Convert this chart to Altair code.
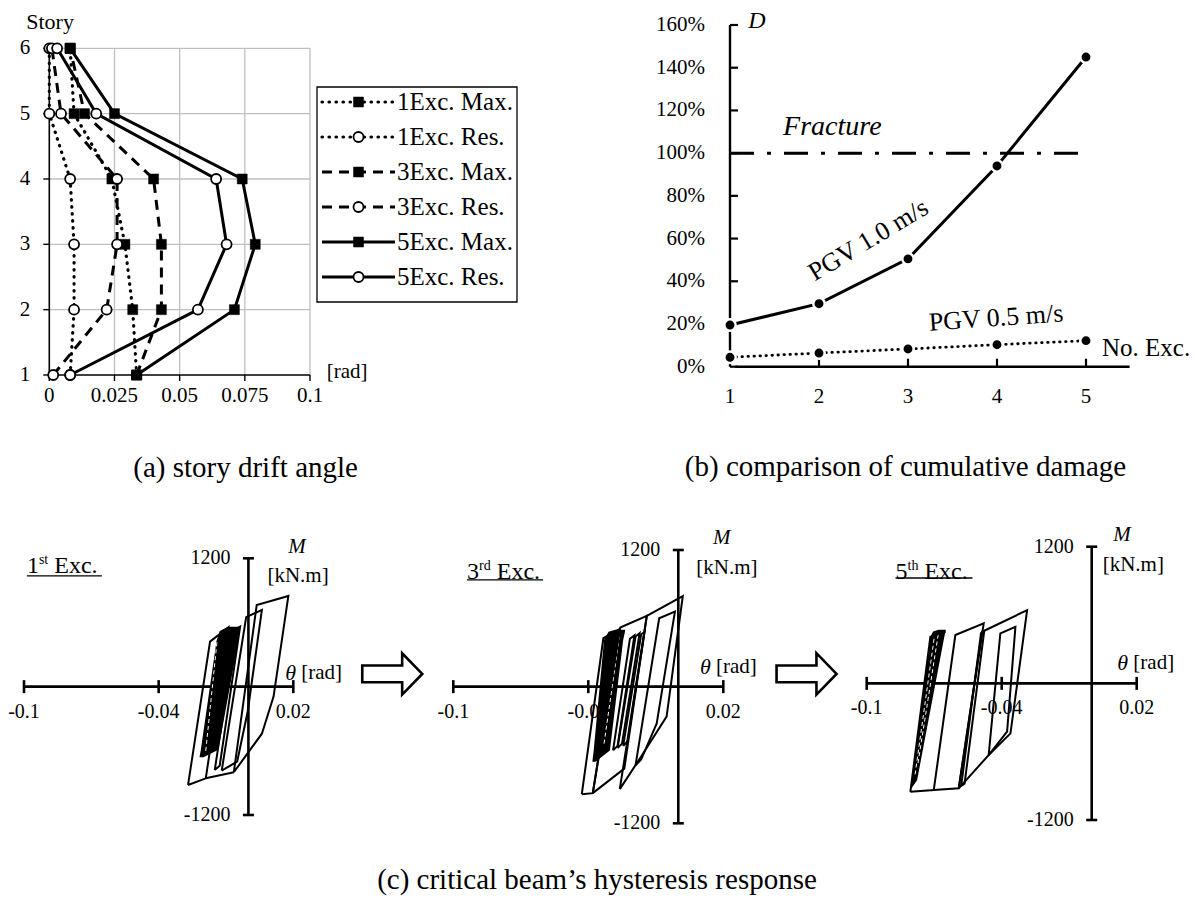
import altair as alt
import pandas as pd

FONT = "Liberation Serif"
INK = "black"
GRID = "#bfbfbf"

# ---------------- (a) story drift angle ----------------
stories = [1, 2, 3, 4, 5, 6]
exc1_max = [0.0335, 0.0320, 0.0290, 0.0240, 0.0095, 0.0080]
exc1_res = [0.0080, 0.0095, 0.0095, 0.0080, 0.0000, 0.0000]
exc3_max = [0.0335, 0.0430, 0.0430, 0.0400, 0.0135, 0.0080]
exc3_res = [0.0015, 0.0220, 0.0260, 0.0260, 0.0045, 0.0010]
exc5_max = [0.0335, 0.0710, 0.0790, 0.0740, 0.0250, 0.0080]
exc5_res = [0.0080, 0.0570, 0.0680, 0.0640, 0.0180, 0.0030]
drift_ticks = [0, 0.025, 0.05, 0.075, 0.1]
drift_tick_text = ["0", "0.025", "0.05", "0.075", "0.1"]

drift_series = [
    ("1Exc. Max.", exc1_max, "dot", "square"),
    ("1Exc. Res.", exc1_res, "dot", "circle"),
    ("3Exc. Max.", exc3_max, "dash", "square"),
    ("3Exc. Res.", exc3_res, "dash", "circle"),
    ("5Exc. Max.", exc5_max, "solid", "square"),
    ("5Exc. Res.", exc5_res, "solid", "circle"),
]

# ---------------- (b) cumulative damage ----------------
exc_count = [1, 2, 3, 4, 5]
damage_pgv10 = [0.195, 0.295, 0.505, 0.940, 1.450]
damage_pgv05 = [0.044, 0.064, 0.083, 0.103, 0.122]
damage_ticks = [0, 0.2, 0.4, 0.6, 0.8, 1.0, 1.2, 1.4, 1.6]
damage_tick_text = ["0%", "20%", "40%", "60%", "80%", "100%", "120%", "140%", "160%"]
fracture_level = 1.0

# ---------------- (c) hysteresis of the critical beam ----------------
theta_ticks = [-0.1, -0.04, 0.02]
theta_tick_text = ["-0.1", "-0.04", "0.02"]
moment_ticks = [-1200, 1200]
moment_tick_text = ["-1200", "1200"]

# closed loops, (theta [rad], M [kN.m])
hyst1_loops = [
    [(-0.0269, -919), (-0.0171, 421), (-0.0089, 555), (-0.0190, -857), (-0.0269, -919)],
    [(-0.0190, -857), (-0.0065, -800)],
    [(-0.0065, -800), (0.0037, 764), (0.0178, 848), (0.0112, -93), (0.0060, -440), (-0.0065, -800)],
    [(-0.0119, -785), (-0.0010, 650), (0.0060, 717), (-0.0003, -230), (-0.0050, -700), (-0.0119, -785)],
    [(-0.0150, -780), (-0.0055, 540), (-0.0037, 561), (-0.0128, -740), (-0.0150, -780)],
]
hyst1_band = [(-660, -0.0218, -0.0200), (-590, -0.0212, -0.0134), (430, -0.0142, -0.0045),
              (520, -0.0128, -0.0038), (560, -0.0090, -0.0037)]
hyst1_streaks = [[(-0.0190, -600), (-0.0140, 420)]]

hyst2_loops = [
    [(-0.0429, -945), (-0.0333, 425), (-0.0267, 498), (-0.0380, -935), (-0.0429, -945)],
    [(-0.0380, -935), (-0.0258, 519), (-0.0140, 621), (-0.0240, -720), (-0.0380, -935)],
    [(-0.0260, -900), (-0.0140, 621), (0.0020, 796), (-0.0052, -263), (-0.0170, -629), (-0.0260, -900)],
    [(-0.0190, -690), (-0.0085, 600), (-0.0015, 659), (-0.0096, -323), (-0.0165, -640), (-0.0190, -690)],
    [(-0.0290, -560), (-0.0215, 420), (-0.0195, 450), (-0.0270, -520), (-0.0290, -560)],
    [(-0.0270, -540), (-0.0190, 440), (-0.0172, 470), (-0.0250, -500), (-0.0270, -540)],
    [(-0.0245, -520), (-0.0165, 460), (-0.0150, 480), (-0.0225, -480), (-0.0245, -520)],
]
hyst2_band = [(-660, -0.0382, -0.0368), (-560, -0.0376, -0.0304), (410, -0.0330, -0.0245),
              (483, -0.0310, -0.0237), (500, -0.0280, -0.0236)]
hyst2_streaks = [[(-0.0330, -500), (-0.0262, 440)]]

hyst3_loops = [
    [(-0.0806, -952), (-0.0717, 409), (-0.0650, 453)],
    [(-0.0806, -952), (-0.0702, -937), (-0.0606, 424), (-0.0480, 527), (-0.0591, -922), (-0.0702, -937)],
    [(-0.0591, -922), (-0.0487, 453), (-0.0287, 643), (-0.0361, -439), (-0.0458, -630), (-0.0591, -922)],
    [(-0.0580, -900), (-0.0492, 440), (-0.0478, 455), (-0.0565, -880), (-0.0580, -900)],
    [(-0.0458, -630), (-0.0406, 439), (-0.0339, 497), (-0.0376, -424), (-0.0458, -630)],
]
hyst3_band = [(-920, -0.0805, -0.0800), (-850, -0.0800, -0.0776), (409, -0.0717, -0.0655),
              (455, -0.0705, -0.0650), (470, -0.0680, -0.0648)]
hyst3_streaks = [[(-0.0785, -800), (-0.0700, 400)], [(-0.0772, -700), (-0.0682, 430)]]

LINE_STYLES = {
    "dot": {"strokeDash": [0.5, 6.5], "strokeCap": "round", "strokeWidth": 3.2},
    "dash": {"strokeDash": [10, 7], "strokeWidth": 3.0},
    "solid": {"strokeWidth": 3.0},
}
MARKERS = {
    "square": {"shape": "square", "filled": True, "fill": INK, "stroke": INK,
               "strokeWidth": 0.5, "size": 100, "opacity": 1},
    "circle": {"shape": "circle", "filled": True, "fill": "white", "stroke": INK,
               "strokeWidth": 1.8, "size": 100, "opacity": 1},
}
ARROW = "M -1 -0.28 L 0.33 -0.28 L 0.33 -0.69 L 1 0 L 0.33 0.69 L 0.33 0.28 L -1 0.28 Z"


def q(channel, field, scale):
    return channel(field, type="quantitative", scale=scale, axis=None)


# ======================= panel (a) =======================
xa = alt.Scale(domain=[0, 0.1], range=[49.3, 310])
ya = alt.Scale(domain=[1, 6], range=[375, 48.3])


def XA(f):
    return q(alt.X, f, xa)


def YA(f):
    return q(alt.Y, f, ya)


a_layers = [
    alt.Chart(pd.DataFrame({"x": drift_ticks[1:], "lo": stories[0], "hi": stories[-1]}))
    .mark_rule(color=GRID, strokeWidth=1.3).encode(x=XA("x"), y=YA("lo"), y2=alt.Y2("hi")),
    alt.Chart(pd.DataFrame({"y": stories[1:], "lo": drift_ticks[0], "hi": drift_ticks[-1]}))
    .mark_rule(color=GRID, strokeWidth=1.3).encode(y=YA("y"), x=XA("lo"), x2=alt.X2("hi")),
    alt.Chart(pd.DataFrame({"x": [0], "lo": [stories[0]], "hi": [stories[-1]]}))
    .mark_rule(color=INK, strokeWidth=1.6).encode(x=XA("x"), y=YA("lo"), y2=alt.Y2("hi")),
    alt.Chart(pd.DataFrame({"y": [stories[0]], "lo": [drift_ticks[0]], "hi": [drift_ticks[-1]]}))
    .mark_rule(color=INK, strokeWidth=1.6).encode(y=YA("y"), x=XA("lo"), x2=alt.X2("hi")),
    alt.Chart(pd.DataFrame({"x": drift_ticks, "y": stories[0]}))
    .mark_tick(orient="vertical", size=6, thickness=1.4, yOffset=3, color=INK, opacity=1)
    .encode(x=XA("x"), y=YA("y")),
    alt.Chart(pd.DataFrame({"x": 0, "y": stories}))
    .mark_tick(orient="horizontal", size=6, thickness=1.4, xOffset=-3, color=INK, opacity=1)
    .encode(x=XA("x"), y=YA("y")),
    alt.Chart(pd.DataFrame({"x": drift_ticks, "y": stories[0], "s": drift_tick_text}))
    .mark_text(font=FONT, fontSize=21, dy=21, color=INK)
    .encode(x=XA("x"), y=YA("y"), text="s:N"),
    alt.Chart(pd.DataFrame({"x": 0, "y": stories, "s": [str(s) for s in stories]}))
    .mark_text(font=FONT, fontSize=21, align="right", dx=-19, color=INK)
    .encode(x=XA("x"), y=YA("y"), text="s:N"),
    alt.Chart(pd.DataFrame({"x": [0.0003], "y": [6.40], "s": ["Story"]}))
    .mark_text(font=FONT, fontSize=22, color=INK).encode(x=XA("x"), y=YA("y"), text="s:N"),
    alt.Chart(pd.DataFrame({"x": [0.1064], "y": [1.046], "s": ["[rad]"]}))
    .mark_text(font=FONT, fontSize=21, align="left", color=INK).encode(x=XA("x"), y=YA("y"), text="s:N"),
]
for name, vals, style, marker in drift_series:
    d = pd.DataFrame({"story": stories, "drift": vals})
    a_layers.append(alt.Chart(d).mark_line(color=INK, **LINE_STYLES[style])
                    .encode(x=XA("drift"), y=YA("story"), order="story:Q"))
for name, vals, style, marker in drift_series:
    d = pd.DataFrame({"story": stories, "drift": vals})
    a_layers.append(alt.Chart(d).mark_point(**MARKERS[marker]).encode(x=XA("drift"), y=YA("story")))
panel_a = alt.layer(*a_layers)

# legend of panel (a)
lx = alt.Scale(domain=[0, 1], range=[322, 395])
ly = alt.Scale(domain=[0, 5], range=[102, 277])
leg_layers = [
    alt.Chart(pd.DataFrame({"k": [0]})).mark_rect(fillOpacity=0, stroke=INK, strokeWidth=1.3)
    .encode(x=alt.value(317), x2=alt.value(517), y=alt.value(87), y2=alt.value(302)),
]
for k, (name, vals, style, marker) in enumerate(drift_series):
    leg_layers.append(alt.Chart(pd.DataFrame({"row": [k, k], "s": [0, 1]}))
                      .mark_line(color=INK, **LINE_STYLES[style])
                      .encode(x=q(alt.X, "s", lx), y=q(alt.Y, "row", ly)))
for k, (name, vals, style, marker) in enumerate(drift_series):
    leg_layers.append(alt.Chart(pd.DataFrame({"row": [k], "s": [0.5]}))
                      .mark_point(**MARKERS[marker])
                      .encode(x=q(alt.X, "s", lx), y=q(alt.Y, "row", ly)))
    leg_layers.append(alt.Chart(pd.DataFrame({"row": [k], "s": [1], "t": [name]}))
                      .mark_text(font=FONT, fontSize=25, align="left", dx=2, color=INK)
                      .encode(x=q(alt.X, "s", lx), y=q(alt.Y, "row", ly), text="t:N"))
legend_a = alt.layer(*leg_layers)

# ======================= panel (b) =======================
xb = alt.Scale(domain=[1, 5], range=[730, 1086])
yb = alt.Scale(domain=[0, 1.6], range=[366.7, 25])


def XB(f):
    return q(alt.X, f, xb)


def YB(f):
    return q(alt.Y, f, yb)


b_layers = [
    alt.Chart(pd.DataFrame({"x": [1], "lo": [damage_ticks[0]], "hi": [damage_ticks[-1]]}))
    .mark_rule(color=INK, strokeWidth=2.4).encode(x=XB("x"), y=YB("lo"), y2=alt.Y2("hi")),
    alt.Chart(pd.DataFrame({"y": [0], "lo": [1.06], "hi": [5.49]}))
    .mark_rule(color=INK, strokeWidth=2.4).encode(y=YB("y"), x=XB("lo"), x2=alt.X2("hi")),
    alt.Chart(pd.DataFrame({"x": 1, "y": damage_ticks}))
    .mark_tick(orient="horizontal", size=8, thickness=2.2, xOffset=4, color=INK, opacity=1)
    .encode(x=XB("x"), y=YB("y")),
    alt.Chart(pd.DataFrame({"x": exc_count[1:], "y": 0}))
    .mark_tick(orient="vertical", size=8, thickness=2.2, yOffset=-4, color=INK, opacity=1)
    .encode(x=XB("x"), y=YB("y")),
    alt.Chart(pd.DataFrame({"x": 1, "y": damage_ticks, "s": damage_tick_text}))
    .mark_text(font=FONT, fontSize=21, align="right", dx=-25, color=INK)
    .encode(x=XB("x"), y=YB("y"), text="s:N"),
    alt.Chart(pd.DataFrame({"x": exc_count, "y": 0, "s": [str(v) for v in exc_count]}))
    .mark_text(font=FONT, fontSize=21, dy=30, color=INK)
    .encode(x=XB("x"), y=YB("y"), text="s:N"),
    alt.Chart(pd.DataFrame({"y": [fracture_level], "lo": [exc_count[0]], "hi": [exc_count[-1]]}))
    .mark_rule(color=INK, strokeWidth=3, strokeDash=[24, 13, 4, 13])
    .encode(y=YB("y"), x=XB("lo"), x2=alt.X2("hi")),
    alt.Chart(pd.DataFrame({"x": exc_count, "d": damage_pgv10}))
    .mark_line(color=INK, strokeWidth=3).encode(x=XB("x"), y=YB("d")),
    alt.Chart(pd.DataFrame({"x": exc_count, "d": damage_pgv05}))
    .mark_line(color=INK, strokeWidth=2.8, strokeDash=[0.5, 5.5], strokeCap="round")
    .encode(x=XB("x"), y=YB("d")),
]
for series in (damage_pgv10, damage_pgv05):
    b_layers.append(alt.Chart(pd.DataFrame({"x": exc_count, "d": series}))
                    .mark_point(shape="circle", filled=True, fill=INK, stroke="white",
                                strokeWidth=2.5, size=130, opacity=1)
                    .encode(x=XB("x"), y=YB("d")))
b_notes = [
    ("D", 1.303, 1.618, 24, "italic", "center", 0),
    ("Fracture", 2.15, 1.122, 28, "italic", "center", 0),
    ("PGV 1.0 m/s", 2.554, 0.593, 26, "normal", "center", 329),
    ("PGV 0.5 m/s", 3.989, 0.228, 26, "normal", "center", 356),
    ("No. Exc.", 5.18, 0.0875, 25, "normal", "left", 0),
]
for text, xv, yv, size, style, align, angle in b_notes:
    b_layers.append(alt.Chart(pd.DataFrame({"x": [xv], "y": [yv], "s": [text]}))
                    .mark_text(font=FONT, fontSize=size, fontStyle=style, align=align,
                               angle=angle, color=INK)
                    .encode(x=XB("x"), y=YB("y"), text="s:N"))
panel_b = alt.layer(*b_layers)


# ======================= panel (c) =======================
def loops_frame(loops):
    rows = []
    for k, loop in enumerate(loops):
        for i, (t, m) in enumerate(loop):
            rows.append({"loop": k, "i": i, "theta": t, "M": m})
    return pd.DataFrame(rows)


SUP_WIDTH = {"st": 9.3, "rd": 11.7, "th": 10.9}


def hysteresis_panel(cfg):
    xs = alt.Scale(domain=[-0.1, 0.02], range=cfg["x_range"])
    ys = alt.Scale(domain=[-1200, 1200], range=cfg["y_range"])

    def X(f):
        return q(alt.X, f, xs)

    def Y(f):
        return q(alt.Y, f, ys)

    layers = [
        alt.Chart(pd.DataFrame({"t": theta_ticks, "m": 0, "s": theta_tick_text}))
        .mark_text(font=FONT, fontSize=20, dy=25, color=INK).encode(x=X("t"), y=Y("m"), text="s:N"),
        alt.Chart(pd.DataFrame({"t": 0, "m": moment_ticks, "s": moment_tick_text}))
        .mark_text(font=FONT, fontSize=20, align="right", dx=-18, color=INK)
        .encode(x=X("t"), y=Y("m"), text="s:N"),
        alt.Chart(pd.DataFrame({"m": [0], "lo": [theta_ticks[0]], "hi": [theta_ticks[-1]]}))
        .mark_rule(color=INK, strokeWidth=2.6).encode(y=Y("m"), x=X("lo"), x2=alt.X2("hi")),
        alt.Chart(pd.DataFrame({"t": [0], "lo": [moment_ticks[0]], "hi": [moment_ticks[-1]]}))
        .mark_rule(color=INK, strokeWidth=2.6).encode(x=X("t"), y=Y("lo"), y2=alt.Y2("hi")),
        alt.Chart(pd.DataFrame({"t": theta_ticks, "m": 0}))
        .mark_tick(orient="vertical", size=13, thickness=2.6, color=INK, opacity=1)
        .encode(x=X("t"), y=Y("m")),
        alt.Chart(pd.DataFrame({"t": 0, "m": moment_ticks}))
        .mark_tick(orient="horizontal", size=11, thickness=2.6, color=INK, opacity=1)
        .encode(x=X("t"), y=Y("m")),
        alt.Chart(pd.DataFrame(cfg["band"], columns=["m", "lo", "hi"]))
        .mark_area(orient="horizontal", color=INK, opacity=1)
        .encode(y=Y("m"), x=X("lo"), x2=alt.X2("hi")),
        alt.Chart(loops_frame(cfg["streaks"]))
        .mark_line(color="white", strokeWidth=1, strokeDash=[4, 3])
        .encode(x=X("theta"), y=Y("M"), detail="loop:N", order="i:Q"),
        alt.Chart(loops_frame(cfg["loops"]))
        .mark_line(color=INK, strokeWidth=2.0, strokeJoin="miter")
        .encode(x=X("theta"), y=Y("M"), detail="loop:N", order="i:Q"),
    ]
    tl, tm = cfg["title"]
    title_df = pd.DataFrame({"t": [tl], "m": [tm]})
    num_w = 12
    sup_w = SUP_WIDTH[cfg["sup"]]
    layers += [
        alt.Chart(title_df).mark_text(text=cfg["num"], font=FONT, fontSize=24, align="left", color=INK)
        .encode(x=X("t"), y=Y("m")),
        alt.Chart(title_df).mark_text(text=cfg["sup"], font=FONT, fontSize=14, align="left",
                                      dx=num_w, dy=-6, color=INK)
        .encode(x=X("t"), y=Y("m")),
        alt.Chart(title_df).mark_text(text="Exc.", font=FONT, fontSize=24, align="left",
                                      dx=num_w + sup_w + 6, color=INK)
        .encode(x=X("t"), y=Y("m")),
        alt.Chart(pd.DataFrame({"a": [tl], "b": [cfg["underline"][0]], "m": [cfg["underline"][1]]}))
        .mark_rule(color=INK, strokeWidth=1.3).encode(x=X("a"), x2=alt.X2("b"), y=Y("m")),
    ]
    th, thm = cfg["theta_lab"]
    layers += [
        alt.Chart(pd.DataFrame({"t": [th], "m": [thm]}))
        .mark_text(text="θ", font=FONT, fontSize=22, fontStyle="italic", align="left", color=INK)
        .encode(x=X("t"), y=Y("m")),
        alt.Chart(pd.DataFrame({"t": [th], "m": [thm]}))
        .mark_text(text="[rad]", font=FONT, fontSize=21, align="left", dx=16, color=INK)
        .encode(x=X("t"), y=Y("m")),
        alt.Chart(pd.DataFrame({"t": [cfg["m_lab"][0]], "m": [cfg["m_lab"][1]]}))
        .mark_text(text="M", font=FONT, fontSize=21, fontStyle="italic", color=INK)
        .encode(x=X("t"), y=Y("m")),
        alt.Chart(pd.DataFrame({"t": [cfg["unit_lab"][0]], "m": [cfg["unit_lab"][1]]}))
        .mark_text(text="[kN.m]", font=FONT, fontSize=21, color=INK)
        .encode(x=X("t"), y=Y("m")),
    ]
    if cfg.get("arrow"):
        layers.append(alt.Chart(pd.DataFrame({"t": [cfg["arrow"][0]], "m": [cfg["arrow"][1]]}))
                      .mark_point(shape=ARROW, size=3600, filled=True, fill="white", stroke=INK,
                                  strokeWidth=2.6, opacity=1, strokeJoin="miter")
                      .encode(x=X("t"), y=Y("m")))
    return alt.layer(*layers)


hyst_panels = [
    dict(loops=hyst1_loops, band=hyst1_band, streaks=hyst1_streaks,
         x_range=[24, 293.3], y_range=[815, 558.3], num="1", sup="st",
         title=(-0.0987, 1128), underline=(-0.0653, 1035),
         theta_lab=(0.0164, 128), m_lab=(0.0217, 1306), unit_lab=(0.0221, 1035),
         arrow=(0.0641, 119)),
    dict(loops=hyst2_loops, band=hyst2_band, streaks=hyst2_streaks,
         x_range=[453.3, 723.3], y_range=[823.3, 550], num="3", sup="rd",
         title=(-0.0939, 1007), underline=(-0.0601, 937),
         theta_lab=(0.0096, 173), m_lab=(0.0193, 1306), unit_lab=(0.0216, 1042),
         arrow=(0.0570, 112)),
    dict(loops=hyst3_loops, band=hyst3_band, streaks=hyst3_streaks,
         x_range=[866.7, 1136.7], y_range=[820, 546.7], num="5", sup="th",
         title=(-0.0872, 977), underline=(-0.0530, 925),
         theta_lab=(0.0114, 178), m_lab=(0.0135, 1302), unit_lab=(0.0185, 1039)),
]
panels_c = [hysteresis_panel(cfg) for cfg in hyst_panels]

# ======================= captions =======================
captions = pd.DataFrame({
    "s": ["(a) story drift angle", "(b) comparison of cumulative damage",
          "(c) critical beam’s hysteresis response"],
    "x": [245.6, 905.5, 597],
    "y": [468, 467, 880],
})
cap_layers = [
    alt.Chart(captions.iloc[[i]]).mark_text(font=FONT, fontSize=29, color=INK)
    .encode(x=alt.value(float(captions.x[i])), y=alt.value(float(captions.y[i])), text="s:N")
    for i in range(len(captions))
]

chart = (
    alt.layer(panel_a, legend_a, panel_b, *panels_c, *cap_layers)
    .resolve_scale(x="independent", y="independent")
    .properties(width=1196, height=904, autosize=alt.AutoSizeParams(type="none"),
                padding=0, background="white")
    .configure_view(stroke=None)
)
chart.save("out.html", embed_options={"renderer": "svg", "actions": False})
